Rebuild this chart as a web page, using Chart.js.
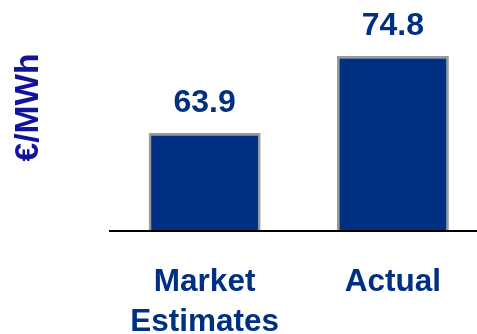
<!DOCTYPE html>
<html>
<head>
<meta charset="utf-8">
<script src="https://cdn.jsdelivr.net/npm/chart.js@4.4.1/dist/chart.umd.min.js"></script>
<style>
  html, body { margin: 0; padding: 0; background: #fff; overflow: hidden; }
  /* The plot bleeds slightly past the right and top edges of the frame */
  #frame { width: 477px; height: 334px; position: relative; overflow: hidden; }
  #c { position: absolute; left: 0; top: -16px; }
</style>
</head>
<body>
<div id="frame"><canvas id="c" width="487" height="350"></canvas></div>
<script>
// Power price: market estimates vs. actual outcome
const categories = [['Market', 'Estimates'], 'Actual'];
const prices = [63.9, 74.8];
const unitLabel = '€/MWh';
const axisMin = 50;
const axisMax = 85;

const NAVY = '#003082';
const TITLE_BLUE = '#12129a';
const FONT = 'Arial, "Liberation Sans", Helvetica, sans-serif';

// Writes each bar's value just above it
const valueLabels = {
  id: 'valueLabels',
  afterDatasetsDraw(chart) {
    const ctx = chart.ctx;
    const meta = chart.getDatasetMeta(0);
    ctx.save();
    ctx.font = 'bold 32px ' + FONT;
    ctx.fillStyle = NAVY;
    ctx.textAlign = 'center';
    ctx.textBaseline = 'alphabetic';
    meta.data.forEach((bar, i) => {
      ctx.fillText(prices[i].toFixed(1), bar.x, bar.y - 21);
    });
    ctx.restore();
  }
};

// Baseline across the bottom of the plot, running to the right edge
const baseLine = {
  id: 'baseLine',
  afterDatasetsDraw(chart) {
    const ctx = chart.ctx;
    const y = chart.scales.y.getPixelForValue(axisMin);
    ctx.save();
    ctx.strokeStyle = '#000';
    ctx.lineWidth = 2;
    ctx.beginPath();
    ctx.moveTo(chart.chartArea.left - 1.5, y);
    ctx.lineTo(chart.width, y);
    ctx.stroke();
    ctx.restore();
  }
};

new Chart(document.getElementById('c'), {
  type: 'bar',
  data: {
    labels: categories,
    datasets: [{
      data: prices,
      backgroundColor: NAVY,
      borderColor: '#9a9a9a',
      borderWidth: { top: 2.5, left: 2.5, right: 2.5, bottom: 0 },
      borderSkipped: 'bottom',
      barPercentage: 0.595,
      categoryPercentage: 1.0
    }]
  },
  options: {
    responsive: false,
    animation: false,
    devicePixelRatio: 1,
    layout: { padding: 0 },
    plugins: {
      legend: { display: false },
      tooltip: { enabled: false }
    },
    scales: {
      x: {
        grid: { display: false, drawTicks: false },
        border: { display: false },
        ticks: {
          color: NAVY,
          font: { family: FONT, size: 31.5, weight: 'bold', lineHeight: 1.27 },
          padding: 31,
          maxRotation: 0
        },
        afterFit(scale) { scale.height = 103; }
      },
      y: {
        min: axisMin,
        max: axisMax,
        grid: { display: false, drawTicks: false },
        border: { display: false },
        ticks: { display: false },
        title: {
          display: true,
          text: unitLabel,
          color: TITLE_BLUE,
          font: { family: FONT, size: 33.5, weight: 'bold' },
          padding: { top: 9, bottom: 0 }
        },
        afterFit(scale) { scale.width = 110.5; }
      }
    }
  },
  plugins: [valueLabels, baseLine]
});
</script>
</body>
</html>
